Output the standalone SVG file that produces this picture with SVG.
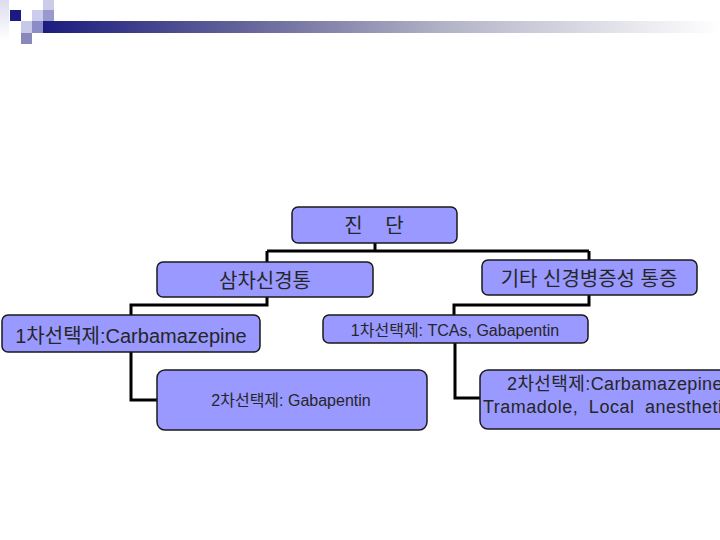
<svg xmlns="http://www.w3.org/2000/svg" width="720" height="540" viewBox="0 0 720 540">
<defs>
<linearGradient id="bar" x1="43" y1="0" x2="720" y2="0" gradientUnits="userSpaceOnUse">
<stop offset="0" stop-color="#1c1c7e"/>
<stop offset="0.3" stop-color="#65659a"/>
<stop offset="0.6" stop-color="#b4b4c8"/>
<stop offset="1" stop-color="#ffffff"/>
</linearGradient>
<linearGradient id="strip" x1="0" y1="0" x2="0" y2="1">
<stop offset="0" stop-color="#dcdcf0"/>
<stop offset="1" stop-color="#ffffff"/>
</linearGradient>
<style>
.box{fill:#9999ff;stroke:#1a1a1a;stroke-width:1.5}
.t{font-family:"Liberation Sans","Noto Sans CJK KR",sans-serif;fill:#262626}
.c{fill:none;stroke:#000;stroke-width:3}
</style>
</defs>
<rect width="720" height="540" fill="#ffffff"/>
<g id="header">
<rect x="0" y="0" width="9" height="40" fill="url(#strip)"/>
<rect x="43" y="21" width="677" height="12" fill="url(#bar)"/>
<rect x="10" y="10" width="11" height="11" fill="#1a1a80"/>
<rect x="21" y="21" width="11" height="12" fill="#c8c8e8"/>
<rect x="32" y="10" width="11" height="11" fill="#ccccee"/>
<rect x="43" y="0" width="11" height="10" fill="#ccccea"/>
<rect x="43" y="10" width="11" height="11" fill="#9999cc"/>
<rect x="32" y="21" width="11" height="12" fill="#8c8cc8"/>
<rect x="21" y="33" width="11" height="11" fill="#8888bb"/>
</g>
<g id="connectors">
<path class="c" d="M375,243 V251 M267,251 H589 M267,251 V262 M589,251 V260"/>
<path class="c" d="M267,297 V305 H131 V315"/>
<path class="c" d="M589,295 V305 H454 V315"/>
<path class="c" d="M131,352 V400 H157"/>
<path class="c" d="M455,343 V398 H480"/>
</g>
<g id="n-diagnosis">
<rect class="box" x="292" y="207" width="165" height="36" rx="6"/>
<text class="t" x="374" y="233" font-size="20" text-anchor="middle" word-spacing="17">진 단</text>
</g>
<g id="n-trigeminal">
<rect class="box" x="157" y="262" width="216" height="35" rx="6"/>
<text class="t" x="265" y="288" font-size="20" text-anchor="middle">삼차신경통</text>
</g>
<g id="n-other">
<rect class="box" x="482" y="260" width="215" height="35" rx="6"/>
<text class="t" x="589" y="286" font-size="20" text-anchor="middle">기타 신경병증성 통증</text>
</g>
<g id="n-first-carb">
<rect class="box" x="2" y="315" width="258" height="37" rx="6"/>
<text class="t" x="131" y="343" font-size="20" text-anchor="middle">1차선택제:Carbamazepine</text>
</g>
<g id="n-first-tca">
<rect class="box" x="323" y="315" width="265" height="28" rx="6"/>
<text class="t" x="455" y="336" font-size="16" text-anchor="middle">1차선택제: TCAs, Gabapentin</text>
</g>
<g id="n-second-gaba">
<rect class="box" x="157" y="370" width="270" height="60" rx="8"/>
<text class="t" x="291" y="406" font-size="16" text-anchor="middle">2차선택제: Gabapentin</text>
</g>
<g id="n-second-carb">
<rect class="box" x="480" y="370" width="270" height="59" rx="8"/>
<text class="t" x="507" y="390" font-size="18" letter-spacing="0.4">2차선택제:Carbamazepine</text>
<text class="t" x="483" y="413" font-size="18" letter-spacing="0.5" word-spacing="5">Tramadole, Local anestheti</text>
</g>
</svg>
